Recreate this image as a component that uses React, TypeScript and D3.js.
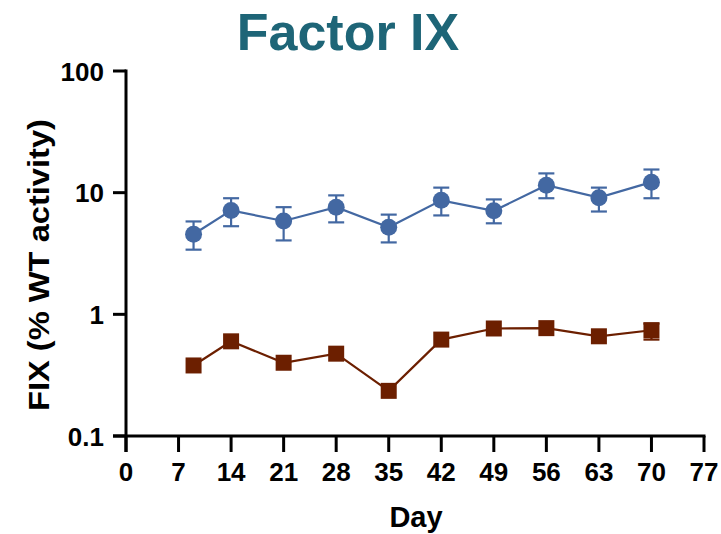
import React from "react";
import { scaleLinear, scaleLog, line } from "d3";

const days = [9, 14, 21, 28, 35, 42, 49, 56, 63, 70];
const fixMean = [4.55, 7.15, 5.85, 7.6, 5.2, 8.65, 7.1, 11.5, 9.1, 12.2];
const fixUpper = [5.8, 9.0, 7.6, 9.5, 6.6, 11.0, 8.8, 14.4, 11.0, 15.5];
const fixLower = [3.4, 5.3, 4.05, 5.7, 3.9, 6.5, 5.6, 9.0, 7.0, 9.0];
const ctrlMean = [0.38, 0.6, 0.4, 0.475, 0.235, 0.62, 0.765, 0.77, 0.66, 0.74];
const ctrlUpper = [0.38, 0.6, 0.4, 0.475, 0.235, 0.62, 0.765, 0.77, 0.66, 0.84];
const ctrlLower = [0.38, 0.6, 0.4, 0.475, 0.235, 0.62, 0.765, 0.77, 0.66, 0.62];
const xTicks = [0, 7, 14, 21, 28, 35, 42, 49, 56, 63, 70, 77];
const yTicks = [0.1, 1, 10, 100];

const BLUE = "#4368a2";
const RED = "#6c1f00";
const FONT = "'Liberation Sans', Arial, sans-serif";

export default function App() {
  const W = 721;
  const H = 534;
  const x = scaleLinear().domain([0, 77]).range([126, 704]);
  const y = scaleLog().domain([0.1, 100]).range([436, 71]);

  const path = line<number>()
    .x((_, i) => x(days[i]))
    .y((d) => y(d));

  const errBars = (upper: number[], lower: number[], color: string) =>
    days.map((d, i) =>
      upper[i] === lower[i] ? null : (
        <g key={`e${i}`} stroke={color} strokeWidth={2.2}>
          <line x1={x(d)} x2={x(d)} y1={y(upper[i])} y2={y(lower[i])} />
          <line x1={x(d) - 8} x2={x(d) + 8} y1={y(upper[i])} y2={y(upper[i])} />
          <line x1={x(d) - 8} x2={x(d) + 8} y1={y(lower[i])} y2={y(lower[i])} />
        </g>
      )
    );

  return (
    <svg width={W} height={H} style={{ position: "absolute", left: 0, top: 0 }} fontFamily={FONT}>
      <rect width={W} height={H} fill="white" />
      <text x={348} y={50} textAnchor="middle" fontSize={52} fontWeight="bold" fill="#1e6577">
        Factor IX
      </text>

      {/* axes */}
      <g stroke="black" strokeWidth={3} fill="none">
        <line x1={126} x2={126} y1={y(100) - 1.5} y2={452} />
        <line x1={113} x2={x(77) + 1.5} y1={436} y2={436} />
        {yTicks.map((t) => (
          <line key={t} x1={113} x2={126} y1={y(t)} y2={y(t)} />
        ))}
        {xTicks.map((t) => (
          <line key={t} x1={x(t)} x2={x(t)} y1={436} y2={452} />
        ))}
      </g>
      {yTicks.map((t) => (
        <text key={t} x={104} y={y(t) + 9.5} textAnchor="end" fontSize={26} fontWeight="bold">
          {t}
        </text>
      ))}
      {xTicks.map((t) => (
        <text key={t} x={x(t)} y={481} textAnchor="middle" fontSize={26} fontWeight="bold">
          {t}
        </text>
      ))}
      <text x={416} y={527} textAnchor="middle" fontSize={29} fontWeight="bold">
        Day
      </text>
      <text
        transform={`translate(49, 265) rotate(-90)`}
        textAnchor="middle"
        fontSize={29}
        fontWeight="bold"
        textLength={292}
        lengthAdjust="spacingAndGlyphs"
      >
        FIX (% WT activity)
      </text>

      {/* control series */}
      <path d={path(ctrlMean) ?? ""} fill="none" stroke={RED} strokeWidth={2.2} />
      {errBars(ctrlUpper, ctrlLower, RED)}
      {days.map((d, i) => (
        <rect key={`s${i}`} x={x(d) - 8} y={y(ctrlMean[i]) - 8} width={16} height={16} fill={RED} />
      ))}

      {/* treated series */}
      <path d={path(fixMean) ?? ""} fill="none" stroke={BLUE} strokeWidth={2.2} />
      {errBars(fixUpper, fixLower, BLUE)}
      {days.map((d, i) => (
        <circle key={`c${i}`} cx={x(d)} cy={y(fixMean[i])} r={8.5} fill={BLUE} />
      ))}
    </svg>
  );
}
